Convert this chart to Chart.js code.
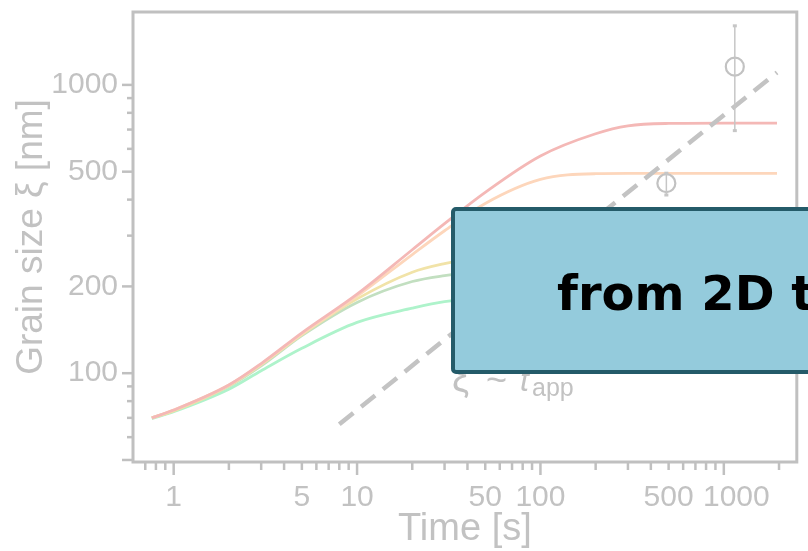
<!DOCTYPE html>
<html>
<head>
<meta charset="utf-8">
<script src="https://cdn.jsdelivr.net/npm/chart.js@4"></script>
<style>
  html, body { margin: 0; padding: 0; background: #fff; }
  #wrap { width: 808px; height: 551px; }
</style>
</head>
<body>
<div id="wrap"><canvas id="grainChart" width="808" height="551"></canvas></div>
<script>
// grain size curves
const times = [0.76, 1, 2, 3, 5, 10, 20, 30, 50, 100, 200, 300, 500, 1000, 1950];
const redSize = [70, 74.5, 91, 108, 138, 188, 268, 330, 424, 567, 677, 721, 735, 737, 737];
const orangeSize = [70, 74.5, 91, 107.5, 137, 185, 258, 312, 388, 470, 492, 493, 493, 493, 493];
const yellowSize = [70, 74, 90.5, 107, 136, 181, 224, 240, 254, 264, 268, 269, 269, 269, 269];
const greenSize = [70, 74, 90, 106, 135, 176, 208, 218, 226, 232, 234, 235, 235, 235, 235];
const mintSize = [69.5, 73.5, 88, 102, 122, 150, 168, 177, 182, 186, 187, 187, 187, 187, 187];

// power law guide
const trendT = [8, 1950];
const trendY = [66.5, 1105];

// measured points with error bars
const expT = [486, 1148];
const expY = [456, 1157];
const expLo = [415, 694];
const expHi = [494, 1603];

// axis ticks
const xTicks = [0.7, 0.8, 0.9, 1, 2, 3, 4, 5, 6, 7, 8, 9, 10, 20, 30, 40, 50, 60, 70, 80, 90,
  100, 200, 300, 400, 500, 600, 700, 800, 900, 1000, 2000];
const xLabels = [1, 5, 10, 50, 100, 500, 1000];
const xLong = [1, 10, 100, 1000];
const yTicks = [50, 60, 70, 80, 90, 100, 200, 300, 400, 500, 600, 700, 800, 900, 1000];
const yLabels = [100, 200, 500, 1000];
const yLong = [50, 100, 200, 500, 1000];

const GREY = "#c0c0c0";
const TEXT_GREY = "#c2c2c2";

const curve = (vals, color) => ({
  type: "line",
  data: times.map((t, i) => ({ x: t, y: vals[i] })),
  borderColor: color,
  borderWidth: 2.8,
  pointRadius: 0,
  cubicInterpolationMode: "monotone",
  fill: false,
});

const frameAndTicks = {
  id: "frameAndTicks",
  afterDatasetsDraw(chart) {
    const { ctx, chartArea: a, scales: { x, y } } = chart;
    ctx.save();
    // error bars
    ctx.strokeStyle = "#c6c6c6";
    ctx.fillStyle = "#c6c6c6";
    ctx.lineWidth = 1.5;
    expT.forEach((t, i) => {
      const px = x.getPixelForValue(t);
      const top = y.getPixelForValue(expHi[i]);
      const bot = y.getPixelForValue(expLo[i]);
      ctx.beginPath();
      ctx.moveTo(px, top);
      ctx.lineTo(px, bot);
      ctx.stroke();
      ctx.fillRect(px - 2, top - 1.5, 4, 3);
      ctx.fillRect(px - 2, bot - 1.5, 4, 3);
    });
    // frame
    ctx.strokeStyle = GREY;
    ctx.lineWidth = 3;
    ctx.strokeRect(a.left, a.top, a.right - a.left, a.bottom - a.top);
    // tick marks
    ctx.lineWidth = 2.5;
    xTicks.forEach((v) => {
      const px = x.getPixelForValue(v);
      if (px > a.right) return;
      const len = xLong.includes(v) ? 13 : 8;
      ctx.beginPath();
      ctx.moveTo(px, a.bottom);
      ctx.lineTo(px, a.bottom + len);
      ctx.stroke();
    });
    yTicks.forEach((v) => {
      const py = y.getPixelForValue(v);
      const len = yLong.includes(v) ? 11 : 6;
      ctx.beginPath();
      ctx.moveTo(a.left, py);
      ctx.lineTo(a.left - len, py);
      ctx.stroke();
    });
    ctx.restore();
  },
  afterDraw(chart) {
    const { ctx } = chart;
    ctx.save();
    // power law annotation (partly under the box)
    ctx.fillStyle = TEXT_GREY;
    ctx.textBaseline = "alphabetic";
    ctx.font = "38px 'Liberation Sans'";
    ctx.fillText("ξ", 452, 391);
    ctx.font = "36px 'Liberation Sans'";
    ctx.fillText("~", 486, 392);
    ctx.font = "italic 32px 'Liberation Sans'";
    ctx.fillText("t", 520, 391);
    ctx.font = "25px 'Liberation Sans'";
    ctx.fillText("app", 532, 396);
    ctx.fillText("0.51±0.02", 574, 373);
    // overlay box
    ctx.fillStyle = "#94cbdc";
    ctx.strokeStyle = "#245b69";
    ctx.lineWidth = 4;
    ctx.beginPath();
    ctx.roundRect(453, 209, 420, 163, 3);
    ctx.fill();
    ctx.stroke();
    ctx.fillStyle = "#000";
    ctx.font = "bold 48px 'DejaVu Sans'";
    ctx.fillText("from 2D to 3D", 557, 310);
    ctx.restore();
  },
};

new Chart(document.getElementById("grainChart"), {
  data: {
    datasets: [
      {
        type: "scatter",
        data: expT.map((t, i) => ({ x: t, y: expY[i] })),
        pointRadius: 9,
        pointBorderWidth: 2.2,
        pointBorderColor: "#c2c2c2",
        pointBackgroundColor: "rgba(0,0,0,0)",
      },
      {
        type: "line",
        data: trendT.map((t, i) => ({ x: t, y: trendY[i] })),
        borderColor: "#c3c3c3",
        borderWidth: 4.5,
        borderDash: [18, 10],
        pointRadius: 0,
      },
      curve(redSize, "#f4b8b6"),
      curve(orangeSize, "#fdd6bb"),
      curve(yellowSize, "#f1e3a8"),
      curve(greenSize, "#c2dfc0"),
      curve(mintSize, "#aef3cb"),
    ],
  },
  options: {
    responsive: false,
    animation: false,
    layout: { padding: { top: 12, right: 6, left: 0, bottom: 0 } },
    plugins: { legend: { display: false }, tooltip: { enabled: false } },
    scales: {
      x: {
        type: "logarithmic",
        min: 0.624,
        max: 2500,
        grid: { display: false },
        border: { display: false },
        afterBuildTicks: (s) => { s.ticks = xTicks.map((v) => ({ value: v })); },
        afterFit: (s) => {
          s.height = 89;
          s.paddingLeft = 0;
          s.paddingRight = 0;
        },
        ticks: {
          autoSkip: false,
          maxRotation: 0,
          padding: 10,
          color: TEXT_GREY,
          font: { family: "'Liberation Sans'", size: 30 },
          callback: (v) => (xLabels.includes(v) ? (v === 1000 ? "   1000" : String(v)) : ""),
        },
        title: {
          display: true,
          text: "Time [s]",
          color: TEXT_GREY,
          font: { family: "'Liberation Sans'", size: 38, lineHeight: 1 },
          padding: { top: 0, bottom: 2 },
        },
      },
      y: {
        type: "logarithmic",
        min: 49.2,
        max: 1790,
        grid: { display: false },
        border: { display: false },
        afterBuildTicks: (s) => { s.ticks = yTicks.map((v) => ({ value: v })); },
        afterFit: (s) => {
          s.width = 133;
          s.paddingTop = 0;
          s.paddingBottom = 0;
        },
        ticks: {
          autoSkip: false,
          padding: 7,
          color: TEXT_GREY,
          font: { family: "'Liberation Sans'", size: 30 },
          callback: (v) => (yLabels.includes(v) ? String(v) : ""),
        },
        title: {
          display: true,
          text: "Grain size ξ [nm]",
          color: TEXT_GREY,
          font: { family: "'Liberation Sans'", size: 37, lineHeight: 1 },
          padding: { top: 13, bottom: 0 },
        },
      },
    },
  },
  plugins: [frameAndTicks],
});
</script>
</body>
</html>
